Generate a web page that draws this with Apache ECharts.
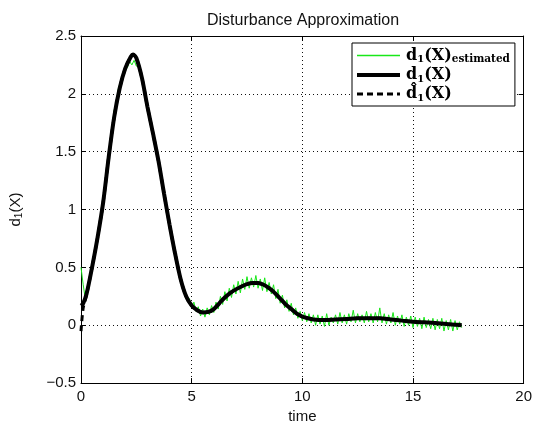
<!DOCTYPE html>
<html>
<head>
<meta charset="utf-8">
<script src="https://cdn.jsdelivr.net/npm/echarts@6/dist/echarts.min.js"></script>
<style>html,body{margin:0;padding:0;background:#fff;}#c{width:535px;height:429px;}</style>
</head>
<body>
<div id="c"></div>
<script>
// ---- data ----
var xTicks = [0, 5, 10, 15, 20];
var yTicks = [-0.5, 0, 0.5, 1, 1.5, 2, 2.5];

var timeD1 = [0,0.1,0.25,0.5,0.75,1.0,1.25,1.5,1.75,2.0,2.25,2.35,2.5,2.75,3.0,3.25,3.5,3.75,4.0,4.25,4.5,4.75,5.0,5.25,5.5,5.75,6.0,6.25,6.5,6.75,7.0,7.25,7.5,7.75,8.0,8.25,8.5,8.75,9.0,9.25,9.5,9.75,10.0,10.25,10.5,11,11.5,12,12.5,13,13.5,14,14.5,15,15.5,16,16.5,17,17.2];
var d1 = [0.17,0.19,0.27,0.50,0.76,1.06,1.45,1.80,2.05,2.22,2.32,2.34,2.31,2.14,1.89,1.66,1.42,1.14,0.87,0.62,0.40,0.25,0.17,0.13,0.11,0.115,0.14,0.19,0.24,0.28,0.31,0.335,0.355,0.365,0.365,0.35,0.32,0.28,0.23,0.18,0.14,0.10,0.075,0.06,0.05,0.045,0.05,0.055,0.06,0.06,0.06,0.05,0.04,0.03,0.025,0.02,0.01,0.005,0.0];
var d1hat = [-0.05,0.15,0.26,0.50,0.76,1.06,1.45,1.80,2.05,2.22,2.32,2.34,2.31,2.14,1.89,1.66,1.42,1.14,0.87,0.62,0.40,0.25,0.17,0.13,0.11,0.115,0.14,0.19,0.24,0.28,0.31,0.335,0.355,0.365,0.365,0.35,0.32,0.28,0.23,0.18,0.14,0.10,0.075,0.06,0.05,0.045,0.05,0.055,0.06,0.06,0.06,0.05,0.04,0.03,0.025,0.02,0.01,0.005,0.0];

// estimated signal, sampled every 0.1 from t = 0 to t = 17.2
var estStart = 0, estStep = 0.1;
var d1Estimated = [
0.50,0.35,0.22,0.33,0.38,0.52,0.58,0.73,0.80,0.95,
1.05,1.25,1.40,1.58,1.70,1.86,1.93,2.06,2.10,2.15,
2.20,2.23,2.28,2.25,2.29,2.24,2.23,2.19,2.10,2.02,
1.90,1.80,1.72,1.62,1.53,1.42,1.31,1.17,1.06,0.97,
0.86,0.77,0.66,0.57,0.49,0.42,0.33,0.30,0.22,0.23,
0.15,0.20,0.12,0.16,0.08,0.14,0.07,0.15,0.09,0.17,
0.11,0.20,0.14,0.25,0.18,0.29,0.21,0.32,0.24,0.35,
0.27,0.38,0.28,0.40,0.31,0.42,0.32,0.41,0.33,0.43,
0.32,0.40,0.30,0.41,0.29,0.37,0.27,0.35,0.23,0.31,
0.19,0.26,0.15,0.22,0.12,0.19,0.09,0.15,0.06,0.12,
0.04,0.11,0.03,0.10,0.02,0.09,0.00,0.09,0.01,0.08,
-0.01,0.10,0.00,0.07,0.02,0.09,0.01,0.11,0.02,0.09,
0.01,0.10,0.03,0.13,0.02,0.10,0.03,0.09,0.02,0.12,
0.03,0.10,0.02,0.11,0.03,0.15,0.02,0.10,0.01,0.09,
0.02,0.11,0.00,0.08,0.01,0.09,-0.01,0.07,0.00,0.08,
-0.02,0.07,-0.01,0.06,-0.03,0.07,-0.02,0.05,-0.03,0.06,
-0.04,0.05,-0.03,0.06,-0.05,0.04,-0.04,0.05,-0.05,0.04,
-0.04,0.03,-0.02
];

var nameEst = 'd1(X)estimated', nameD1 = 'd1(X)', nameHat = 'd\u03021(X)';

// ---- build series data ----
function pairs(t, v) { return t.map(function (x, i) { return [x, v[i]]; }); }
var estData = d1Estimated.map(function (v, i) { return [+(estStart + i * estStep).toFixed(2), v]; });

var FONT = 'Liberation Sans, Arial, sans-serif';
var SERIF = 'DejaVu Serif, Liberation Serif, serif';

var chart = echarts.init(document.getElementById('c'), null, {renderer: 'canvas'});
var gridLine = {show: true, lineStyle: {color: '#111', type: [1, 3], width: 1}};
var axisLine = {show: true, onZero: false, lineStyle: {color: '#000', width: 1}};
var tick = {show: true, inside: true, length: 5, lineStyle: {color: '#000'}};
function fmt(v) { return v < 0 ? '\u2212' + (-v) : String(v); }

chart.setOption({
  animation: false,
  backgroundColor: '#fff',
  title: {
    text: 'Disturbance Approximation',
    left: 298, top: 8, textAlign: 'center',
    textStyle: {fontFamily: FONT, fontSize: 16, fontWeight: 'normal', color: '#111'}
  },
  grid: {left: 80, right: 9, top: 36, bottom: 42, containLabel: false},
  legend: {
    orient: 'vertical', left: 352, top: 43,
    padding: [3, 5, 3, 3], itemGap: 1, itemWidth: 43, itemHeight: 16,
    backgroundColor: '#fff', borderColor: '#000', borderWidth: 1,
    itemStyle: {opacity: 0, borderWidth: 0},
    data: [
      {name: nameEst, lineStyle: {width: 1.5}},
      {name: nameD1, lineStyle: {width: 4}},
      {name: nameHat, lineStyle: {width: 3, type: [6, 4]}}
    ],
    formatter: function (n) {
      if (n === nameEst) return '{m|d}{s|1}{m|(X)}{e|estimated}';
      if (n === nameD1) return '{m|d}{s|1}{m|(X)}';
      return '{m|d\u0302}{s|1}{m|(X)}';
    },
    textStyle: {
      fontFamily: SERIF, fontWeight: 'bold', color: '#000', padding: [0, 0, 0, 1],
      rich: {
        m: {fontFamily: SERIF, fontWeight: 'bold', fontSize: 16, color: '#000', lineHeight: 18},
        s: {fontFamily: SERIF, fontWeight: 'bold', fontSize: 10, color: '#000', lineHeight: 18, padding: [8, 0, 0, 0]},
        e: {fontFamily: SERIF, fontWeight: 'bold', fontSize: 10.5, color: '#000', lineHeight: 18, padding: [8, 0, 0, 0]}
      }
    }
  },
  xAxis: [{
    type: 'value', min: xTicks[0], max: xTicks[xTicks.length - 1], interval: 5,
    name: 'time', nameLocation: 'middle', nameGap: 23,
    nameTextStyle: {fontFamily: FONT, fontSize: 15, color: '#111'},
    axisLine: axisLine, axisTick: tick, splitLine: gridLine,
    axisLabel: {fontFamily: FONT, fontSize: 15, color: '#111', margin: 6, formatter: fmt}
  }, {
    type: 'value', position: 'top', min: xTicks[0], max: xTicks[xTicks.length - 1], interval: 5,
    axisLine: axisLine, axisTick: tick, splitLine: {show: false}, axisLabel: {show: false}
  }],
  yAxis: [{
    type: 'value', min: yTicks[0], max: yTicks[yTicks.length - 1], interval: 0.5,
    name: '{a|d}{b|1}{a|(X)}', nameLocation: 'middle', nameGap: 57, nameRotate: 90,
    nameTextStyle: {
      fontFamily: FONT, fontSize: 15, color: '#111',
      rich: {
        a: {fontFamily: FONT, fontSize: 15, color: '#111'},
        b: {fontFamily: FONT, fontSize: 10, color: '#111', padding: [7, 0, 0, 0]}
      }
    },
    axisLine: axisLine, axisTick: tick, splitLine: gridLine,
    axisLabel: {fontFamily: FONT, fontSize: 15, color: '#111', margin: 5, formatter: fmt}
  }, {
    type: 'value', position: 'right', min: yTicks[0], max: yTicks[yTicks.length - 1], interval: 0.5,
    axisLine: axisLine, axisTick: tick, splitLine: {show: false}, axisLabel: {show: false}
  }],
  series: [{
    name: nameEst, type: 'line', data: estData, symbol: 'none',
    lineStyle: {color: '#18e818', width: 1}, itemStyle: {color: '#18e818'}, z: 2
  }, {
    name: nameD1, type: 'line', data: pairs(timeD1, d1), symbol: 'none', smooth: 0.3,
    lineStyle: {color: '#000', width: 4}, itemStyle: {color: '#000'}, z: 3
  }, {
    name: nameHat, type: 'line', data: pairs(timeD1, d1hat), symbol: 'none', smooth: 0.3,
    lineStyle: {color: '#000', width: 3, type: [6, 4]}, itemStyle: {color: '#000'}, z: 4
  }]
});
</script>
</body>
</html>
